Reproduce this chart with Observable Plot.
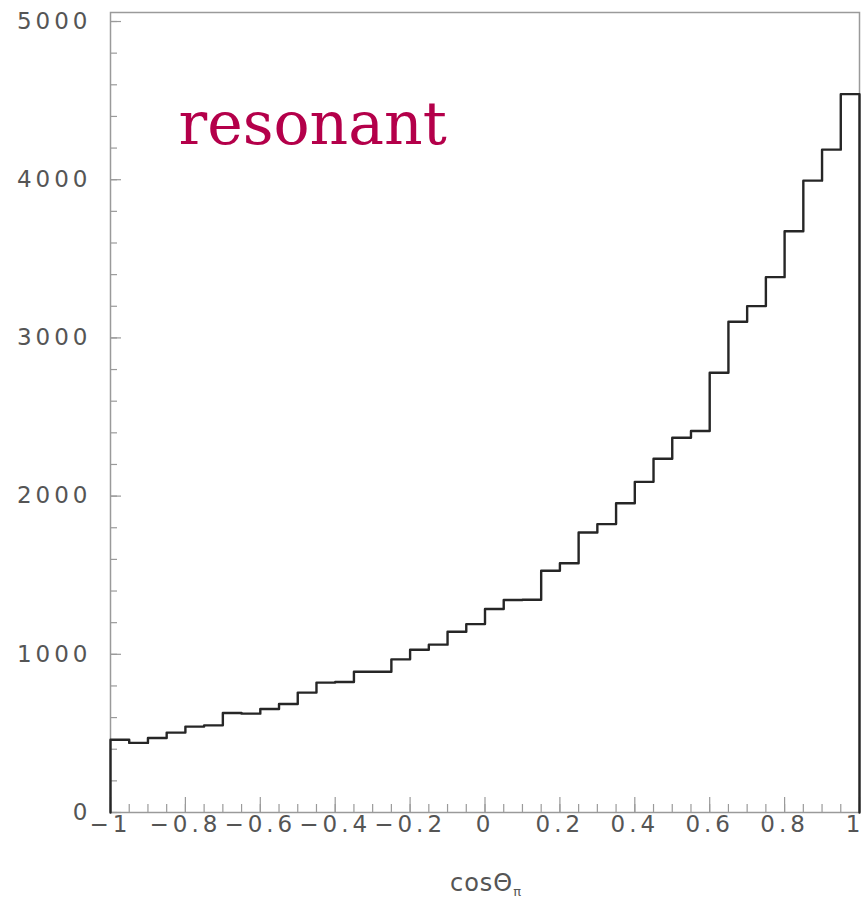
<!DOCTYPE html>
<html>
<head>
<meta charset="utf-8">
<script src="https://cdn.jsdelivr.net/npm/d3@7"></script>
<script src="https://cdn.jsdelivr.net/npm/@observablehq/plot@0.6"></script>
<style>
  html, body { margin: 0; padding: 0; background: #fff; }
  #chart svg { display: block; }
</style>
</head>
<body>
<div id="chart"></div>
<script>
// cosθπ distribution, 40 bins of width 0.05 over [-1, 1]
const binLow = -1;
const binWidth = 0.05;
const counts = [
  460, 440, 471, 505, 543, 551, 629, 625, 654, 686,
  758, 821, 825, 890, 890, 968, 1029, 1061, 1143, 1191,
  1286, 1343, 1345, 1528, 1576, 1770, 1823, 1955, 2090, 2236,
  2369, 2412, 2780, 3102, 3201, 3384, 3674, 3994, 4190, 4541
];

const xMajor = [-1, -0.8, -0.6, -0.4, -0.2, 0, 0.2, 0.4, 0.6, 0.8, 1];
const xMinor = d3.range(0, 41).map(i => +(binLow + i * binWidth).toFixed(2));
const yMajor = [0, 1000, 2000, 3000, 4000, 5000];
const yMinor = d3.range(0, 5001, 200);
const yMax = 5057;
const label = "resonant";

// outline of the histogram as a step path, closed down to zero at both ends
const steps = [{x: binLow, y: 0}];
counts.forEach((c, i) => steps.push({x: binLow + i * binWidth, y: c}));
steps.push({x: binLow + counts.length * binWidth, y: counts[counts.length - 1]});
steps.push({x: binLow + counts.length * binWidth, y: 0});

const W = 861, H = 899;
const mL = 110, mR = 2, mT = 12, mB = 87;
const innerW = W - mL - mR, innerH = H - mT - mB;
const fmt = d => (d < 0 ? "\u2212" : "") + Math.abs(d);
const tickFont = {fontSize: 23, fill: "#555"};

const chart = Plot.plot({
  width: W,
  height: H,
  marginLeft: mL,
  marginRight: mR,
  marginTop: mT,
  marginBottom: mB,
  style: {fontFamily: "'DejaVu Sans', sans-serif", background: "#fff"},
  x: {domain: [-1, 1]},
  y: {domain: [0, yMax]},
  marks: [
    Plot.frame({stroke: "#9a9a9a", strokeWidth: 1.5}),
    // inward ticks along the bottom axis
    Plot.tickX(xMinor, {x: d => d, insetTop: innerH - 8, stroke: "#9a9a9a", strokeWidth: 1.2}),
    Plot.tickX(xMajor, {x: d => d, insetTop: innerH - 15, stroke: "#9a9a9a", strokeWidth: 1.2}),
    // inward ticks along the left axis
    Plot.tickY(yMinor, {y: d => d, insetRight: innerW - 7, stroke: "#9a9a9a", strokeWidth: 1.2}),
    Plot.tickY(yMajor, {y: d => d, insetRight: innerW - 11, stroke: "#9a9a9a", strokeWidth: 1.2}),
    Plot.axisX(xMajor.slice(0, -1), {tickSize: 0, tickPadding: 3, tickFormat: fmt, ...tickFont, label: null}),
    // the last label sits at the very edge of the frame
    Plot.axisX([1], {tickSize: 0, tickPadding: 3, tickFormat: fmt, ...tickFont, label: null, textAnchor: "end", dx: 1, ariaLabel: "x-axis end label"}),
    Plot.axisY(yMajor, {tickSize: 0, tickPadding: 19, tickFormat: d => String(d), ...tickFont, label: null}),
    Plot.line(steps, {x: "x", y: "y", curve: "step-after", stroke: "#262626", strokeWidth: 2.4}),
    Plot.text([label], {
      frameAnchor: "top-left", dx: 68, dy: 112,
      text: d => d, textAnchor: "start", lineAnchor: "middle",
      fontFamily: "'DejaVu Serif', serif", fontSize: 60, fill: "#b4004a"
    })
  ]
});

// letter-spaced tick labels (all but the edge label)
d3.select(chart).selectAll("g[aria-label='x-axis tick label'] text, g[aria-label='y-axis tick label'] text")
  .filter(function() { return this.textContent !== "1"; })
  .style("letter-spacing", "4px");

// axis title with subscript
const svg = d3.select(chart);
const title = svg.append("text")
  .attr("x", 486).attr("y", H - 8)
  .attr("text-anchor", "middle")
  .attr("font-family", "'DejaVu Sans', sans-serif")
  .attr("font-size", 24)
  .attr("fill", "#555")
  .style("letter-spacing", "1px");
title.append("tspan").text("cos\u0398");
title.append("tspan").attr("font-size", 13).attr("dy", 5).text("\u03c0");

document.getElementById("chart").appendChild(chart);
</script>
</body>
</html>
